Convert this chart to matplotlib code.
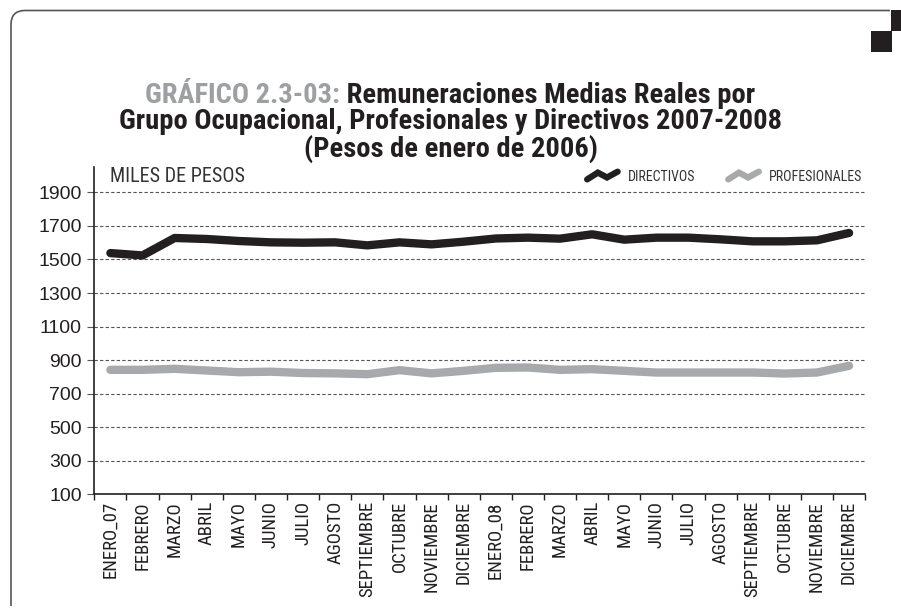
import matplotlib
matplotlib.use("Agg")
import matplotlib.pyplot as plt
import numpy as np
from matplotlib import font_manager
from matplotlib.lines import Line2D
from matplotlib.legend_handler import HandlerBase
from matplotlib.path import Path
from matplotlib.patches import PathPatch, Rectangle

# ---------------- data ----------------
months = ["ENERO_07", "FEBRERO", "MARZO", "ABRIL", "MAYO", "JUNIO", "JULIO",
          "AGOSTO", "SEPTIEMBRE", "OCTUBRE", "NOVIEMBRE", "DICIEMBRE",
          "ENERO_08", "FEBRERO", "MARZO", "ABRIL", "MAYO", "JUNIO", "JULIO",
          "AGOSTO", "SEPTIEMBRE", "OCTUBRE", "NOVIEMBRE", "DICIEMBRE"]
directivos = [1538, 1524, 1628, 1622, 1610, 1602, 1600, 1602, 1584, 1602, 1590, 1606,
              1625, 1630, 1624, 1650, 1618, 1630, 1630, 1620, 1608, 1608, 1614, 1658]
profesionales = [842, 842, 848, 838, 828, 831, 823, 821, 816, 840, 821, 836,
                 854, 856, 842, 846, 836, 826, 826, 826, 826, 820, 826, 866]
yticks = [100, 300, 500, 700, 900, 1100, 1300, 1500, 1700, 1900]

# ---------------- fonts ----------------
names = {f.name for f in font_manager.fontManager.ttflist}
family = "DejaVu Sans"
for cand in ["Roboto Condensed", "Liberation Sans Narrow", "Arial Narrow",
             "Open Sans Condensed", "Noto Sans Condensed", "DejaVu Sans Condensed"]:
    if cand in names:
        family = cand
        break
regular = "Liberation Sans" if "Liberation Sans" in names else "DejaVu Sans"
plt.rcParams["font.family"] = [family, "DejaVu Sans"]

INK = "#231f20"
GREY = "#a7a9ac"
TITLE_GREY = "#9d9fa2"

fig = plt.figure(figsize=(9.01, 6.08), dpi=100)
ax = fig.add_axes([0.1047, 0.187, 0.8555, 0.538])

x = np.arange(len(months))
ax.plot(x, directivos, color=INK, lw=6, solid_capstyle="round", solid_joinstyle="round", zorder=3)
ax.plot(x, profesionales, color=GREY, lw=6, solid_capstyle="round", solid_joinstyle="round", zorder=3)

ax.set_xlim(-0.5, len(months) - 0.5)
ax.set_ylim(100, 2050)
ax.set_yticks(yticks)
ax.set_yticklabels([str(v) for v in yticks], fontsize=14, color=INK, family=[regular, "DejaVu Sans"])
for v in yticks[1:]:
    ax.axhline(v, color="#555555", lw=0.8, ls=(0, (3, 2)), zorder=1)

ax.set_xticks(np.arange(-0.5, len(months), 1))
ax.set_xticklabels([])
ax.set_xticks(x, minor=True)
ax.set_xticklabels(months, minor=True, rotation=90, fontsize=13.5, color=INK, va="top")
ax.tick_params(axis="x", which="major", direction="out", length=4, width=1, color=INK)
ax.tick_params(axis="x", which="minor", length=0, pad=5)
ax.tick_params(axis="y", direction="out", length=5, width=0.8, color="#555555", pad=4)

for s in ["top", "right"]:
    ax.spines[s].set_visible(False)
for s in ["left", "bottom"]:
    ax.spines[s].set_color(INK)
    ax.spines[s].set_linewidth(1.2)

ax.text(0.02, 1.0, "MILES DE PESOS", transform=ax.transAxes, fontsize=14.5,
        color="#333333", va="top", ha="left")


class ZigZag(HandlerBase):
    def create_artists(self, legend, orig_handle, xdescent, ydescent, width, height, fontsize, trans):
        xs = [0, width * 0.35, width * 0.65, width]
        ys = [height * 0.15, height * 0.85, height * 0.35, height * 0.95]
        ln = Line2D(xs, ys, color=orig_handle.get_color(), lw=4.5,
                    solid_capstyle="round", solid_joinstyle="miter")
        ln.set_transform(trans)
        return [ln]


h1 = Line2D([], [], color=INK)
h2 = Line2D([], [], color=GREY)
leg = ax.legend([h1, h2], ["DIRECTIVOS", "PROFESIONALES"], handler_map={Line2D: ZigZag()},
                loc="upper right", bbox_to_anchor=(1.012, 1.03), ncol=2, frameon=False,
                fontsize=10, handlelength=2.2, handletextpad=0.7, columnspacing=2.4)
for t in leg.get_texts():
    t.set_color("#333333")

# ---------------- title ----------------
tkw = dict(fontsize=20.5, fontweight="bold", va="baseline")
cx = 0.5
fig.canvas.draw()
r = fig.canvas.get_renderer()
t1a = fig.text(0, 1 - 103 / 608, "GRÁFICO 2.3-03:", color=TITLE_GREY, ha="left", **tkw)
t1b = fig.text(0, 1 - 103 / 608, " Remuneraciones Medias Reales por", color=INK, ha="left", **tkw)
wa = t1a.get_window_extent(r).width / fig.bbox.width
wb = t1b.get_window_extent(r).width / fig.bbox.width
start = cx - (wa + wb) / 2
t1a.set_x(start)
t1b.set_x(start + wa)
fig.text(cx, 1 - 129 / 608, "Grupo Ocupacional, Profesionales y Directivos 2007-2008",
         color=INK, ha="center", **tkw)
fig.text(cx, 1 - 157 / 608, "(Pesos de enero de 2006)", color=INK, ha="center", **tkw)

# ---------------- frame decoration ----------------
W, H = 901, 608
def px(xp, yp):
    return (xp / W, 1 - yp / H)
rad = 14
verts = [px(11, 606), px(11, 10.5 + rad), px(11, 10.5), px(11 + rad, 10.5), px(890, 10.5)]
codes = [Path.MOVETO, Path.LINETO, Path.CURVE3, Path.CURVE3, Path.LINETO]
fig.add_artist(PathPatch(Path(verts, codes), transform=fig.transFigure, fill=False,
                         edgecolor="#555555", lw=1.2))
fig.add_artist(Rectangle(px(871, 52), 21 / W, 21 / H, transform=fig.transFigure,
                         facecolor=INK, edgecolor="none"))
fig.add_artist(Rectangle(px(891, 31), 10 / W, 21 / H, transform=fig.transFigure,
                         facecolor=INK, edgecolor="none"))

fig.savefig("out.png", dpi=100)
